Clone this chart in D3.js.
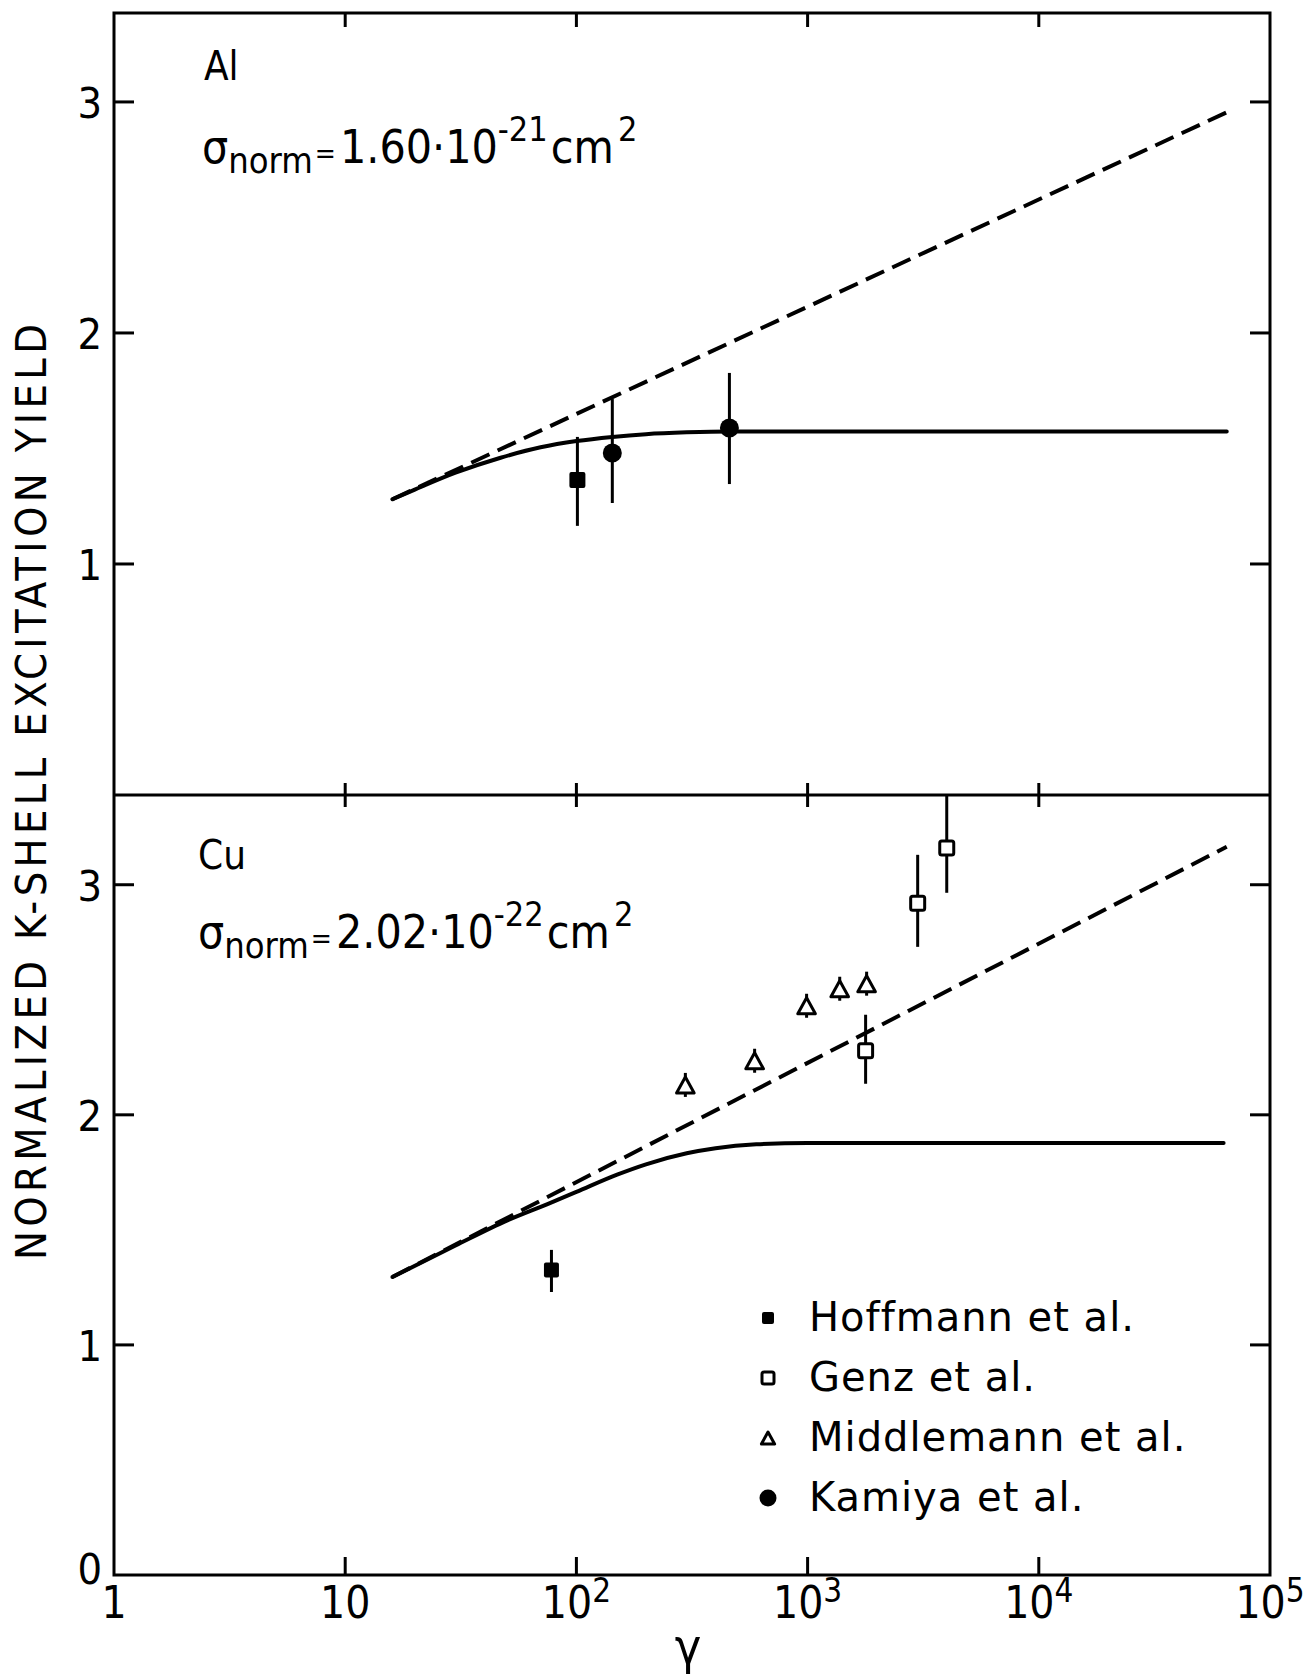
<!DOCTYPE html>
<html>
<head>
<meta charset="utf-8">
<script src="https://cdnjs.cloudflare.com/ajax/libs/d3/7.8.5/d3.min.js"></script>
<style>
body { margin: 0; background: #fff; }
svg text { font-family: "Liberation Sans Narrow", "DejaVu Sans Condensed", "Liberation Sans", sans-serif; fill: #000; }
</style>
</head>
<body>
<div id="chart"></div>
<script>
// axis ticks
var xTicks = [1, 10, 100, 1000, 10000, 100000];
var xTickBase = ["1", "10", "10", "10", "10", "10"];
var xTickExp = ["", "", "2", "3", "4", "5"];
var yTicksAl = [1, 2, 3];
var yTicksCu = [0, 1, 2, 3];

// theory curves, [gamma, normalized yield]
var alSolid = [[16, 1.28], [20, 1.322], [30, 1.395], [47, 1.46], [70, 1.505], [100, 1.532],
               [143, 1.55], [200, 1.562], [300, 1.57], [459, 1.574], [1000, 1.574], [65000, 1.574]];
var alDashed = [[16, 1.28], [65000, 2.955]];
var cuSolid = [[16, 1.295], [30, 1.432], [50, 1.54], [75, 1.612], [100, 1.665], [150, 1.74],
               [200, 1.785], [300, 1.833], [400, 1.855], [600, 1.872], [1000, 1.878], [63000, 1.878]];
var cuDashed = [[16, 1.295], [65000, 3.165]];

// measurements: gamma, value, error bar low / high
var hoffmannAl = [{g: 101, v: 1.364, lo: 1.165, hi: 1.55}];
var kamiyaAl = [{g: 143, v: 1.48, lo: 1.264, hi: 1.714},
                {g: 459, v: 1.589, lo: 1.346, hi: 1.827}];
var hoffmannCu = [{g: 78, v: 1.326, lo: 1.23, hi: 1.413}];
var genzCu = [{g: 1782, v: 2.278, lo: 2.135, hi: 2.435},
              {g: 2993, v: 2.92, lo: 2.73, hi: 3.13},
              {g: 3998, v: 3.16, lo: 2.965, hi: 3.39}];
var middlemannCu = [{g: 296, v: 2.13}, {g: 590, v: 2.235}, {g: 990, v: 2.474},
                    {g: 1377, v: 2.548}, {g: 1800, v: 2.57}];

var legendNames = ["Hoffmann et al.", "Genz  et al.", "Middlemann et al.", "Kamiya et al."];
var legendKinds = ["fsquare", "osquare", "triangle", "circle"];

function draw() {
    var W = 1307, H = 1676;
    var pl = 114, pr = 1270, pt = 13, pm = 795, pb = 1575;

    var svg = d3.select("#chart").append("svg")
        .attr("width", W).attr("height", H);

    var x = d3.scaleLog().domain([1, 100000]).range([pl, pr]);
    var yAl = d3.scaleLinear().domain([0, 3.385]).range([pm, pt]);
    var yCu = d3.scaleLinear().domain([0, 3.39]).range([pb, pm]);

    // frame
    svg.append("rect")
        .attr("x", pl).attr("y", pt)
        .attr("width", pr - pl).attr("height", pb - pt)
        .attr("fill", "none").attr("stroke", "#000").attr("stroke-width", 3);
    svg.append("line")
        .attr("x1", pl).attr("x2", pr).attr("y1", pm).attr("y2", pm)
        .attr("stroke", "#000").attr("stroke-width", 3);

    var tk = svg.append("g").attr("stroke", "#000").attr("stroke-width", 3);
    xTicks.slice(1, -1).forEach(function(t) {
        tk.append("line").attr("x1", x(t)).attr("x2", x(t)).attr("y1", pt).attr("y2", pt + 14);
        tk.append("line").attr("x1", x(t)).attr("x2", x(t)).attr("y1", pm - 12).attr("y2", pm + 12);
        tk.append("line").attr("x1", x(t)).attr("x2", x(t)).attr("y1", pb).attr("y2", pb - 18);
    });
    function yTicks(scale, vals) {
        vals.filter(function(v) { return v > 0; }).forEach(function(v) {
            tk.append("line").attr("x1", pl).attr("x2", pl + 20).attr("y1", scale(v)).attr("y2", scale(v));
            tk.append("line").attr("x1", pr).attr("x2", pr - 20).attr("y1", scale(v)).attr("y2", scale(v));
        });
        svg.append("g").selectAll("text").data(vals).enter().append("text")
            .attr("x", pl - 12)
            .attr("y", function(v) { return scale(v) + (v == 0 ? 9 : 16); })
            .attr("text-anchor", "end")
            .style("font-size", "43px")
            .text(function(v) { return v; });
    }
    yTicks(yAl, yTicksAl);
    yTicks(yCu, yTicksCu);

    // x tick labels
    xTicks.forEach(function(t, i) {
        var lab = svg.append("text")
            .attr("x", x(t)).attr("y", 1618)
            .attr("text-anchor", "middle")
            .style("font-size", "44px");
        lab.append("tspan").text(xTickBase[i]);
        if (xTickExp[i]) lab.append("tspan").attr("dy", -16).style("font-size", "33px").text(xTickExp[i]);
    });

    svg.append("text")
        .attr("x", 688).attr("y", 1664)
        .attr("text-anchor", "middle")
        .style("font-size", "50px")
        .text("\u03b3");

    svg.append("text")
        .attr("transform", "translate(46,792) rotate(-90)")
        .attr("text-anchor", "middle")
        .attr("textLength", 936).attr("lengthAdjust", "spacing")
        .style("font-size", "43px")
        .text("NORMALIZED K-SHELL EXCITATION YIELD");

    // panel annotations
    function sigma(xp, yb, mant, exp) {
        var t = svg.append("text").attr("x", xp).attr("y", yb).style("font-size", "46px");
        t.append("tspan").text("\u03c3");
        t.append("tspan").attr("dy", 10).style("font-size", "36px").text("norm");
        t.append("tspan").attr("dy", -10).attr("dx", 2).style("font-size", "28px").text("=");
        t.append("tspan").attr("dx", 4).text(mant + "\u00b710");
        t.append("tspan").attr("dy", -22).style("font-size", "34px").text(exp);
        t.append("tspan").attr("dy", 22).attr("dx", 3).text("cm");
        t.append("tspan").attr("dy", -22).attr("dx", 4).style("font-size", "34px").text("2");
    }
    svg.append("text").attr("x", 204).attr("y", 80).style("font-size", "40px").text("Al");
    sigma(202, 163, "1.60", "-21");
    svg.append("text").attr("x", 198).attr("y", 869).style("font-size", "40px").text("Cu");
    sigma(198, 948, "2.02", "-22");

    // curves
    function curves(scale, solid, dashed) {
        var line = d3.line()
            .x(function(d) { return x(d[0]); })
            .y(function(d) { return scale(d[1]); })
            .curve(d3.curveMonotoneX);
        svg.append("path").datum(dashed)
            .attr("fill", "none").attr("stroke", "#000").attr("stroke-width", 4)
            .attr("stroke-dasharray", "20,9")
            .attr("d", line);
        svg.append("path").datum(solid)
            .attr("fill", "none").attr("stroke", "#000").attr("stroke-width", 4)
            .attr("stroke-linecap", "round")
            .attr("d", line);
    }
    curves(yAl, alSolid, alDashed);
    curves(yCu, cuSolid, cuDashed);

    // markers
    function marker(g, kind, cx, cy, s) {
        if (kind == "fsquare") {
            g.append("rect").attr("x", cx - s / 2).attr("y", cy - s / 2).attr("width", s).attr("height", s)
                .attr("rx", 2).attr("fill", "#000");
        } else if (kind == "osquare") {
            g.append("rect").attr("x", cx - s / 2).attr("y", cy - s / 2).attr("width", s).attr("height", s)
                .attr("rx", 2).attr("fill", "#fff").attr("stroke", "#000").attr("stroke-width", 3);
        } else if (kind == "circle") {
            g.append("circle").attr("cx", cx).attr("cy", cy).attr("r", s / 2).attr("fill", "#000");
        } else {
            g.append("path")
                .attr("d", "M" + cx + "," + (cy - s / 2) + "L" + (cx + s * 0.55) + "," + (cy + s / 2) +
                           "L" + (cx - s * 0.55) + "," + (cy + s / 2) + "Z")
                .attr("fill", "#fff").attr("stroke", "#000").attr("stroke-width", 3)
                .attr("stroke-linejoin", "round");
        }
    }
    function points(scale, data, kind, s) {
        var g = svg.append("g");
        data.forEach(function(d) {
            if (d.lo !== undefined) {
                g.append("line")
                    .attr("x1", x(d.g)).attr("x2", x(d.g))
                    .attr("y1", scale(d.lo)).attr("y2", scale(d.hi))
                    .attr("stroke", "#000").attr("stroke-width", 3);
            } else {
                g.append("line")
                    .attr("x1", x(d.g)).attr("x2", x(d.g))
                    .attr("y1", scale(d.v) - 12).attr("y2", scale(d.v) + 12)
                    .attr("stroke", "#000").attr("stroke-width", 3);
            }
            marker(g, kind, x(d.g), scale(d.v), s);
        });
    }
    points(yAl, hoffmannAl, "fsquare", 16);
    points(yAl, kamiyaAl, "circle", 19);
    points(yCu, hoffmannCu, "fsquare", 15);
    points(yCu, genzCu, "osquare", 14);
    points(yCu, middlemannCu, "triangle", 16);

    // legend
    var leg = svg.append("g");
    legendNames.forEach(function(name, i) {
        var yy = 1318 + i * 60;
        marker(leg, legendKinds[i], 768, yy, legendKinds[i] == "circle" ? 17 : 12);
        leg.append("text")
            .attr("x", 809).attr("y", yy + 13)
            .style("font-size", "40px")
            .style("font-family", "'DejaVu Sans', sans-serif")
            .style("letter-spacing", "1px")
            .text(name);
    });
}
draw();
</script>
</body>
</html>
